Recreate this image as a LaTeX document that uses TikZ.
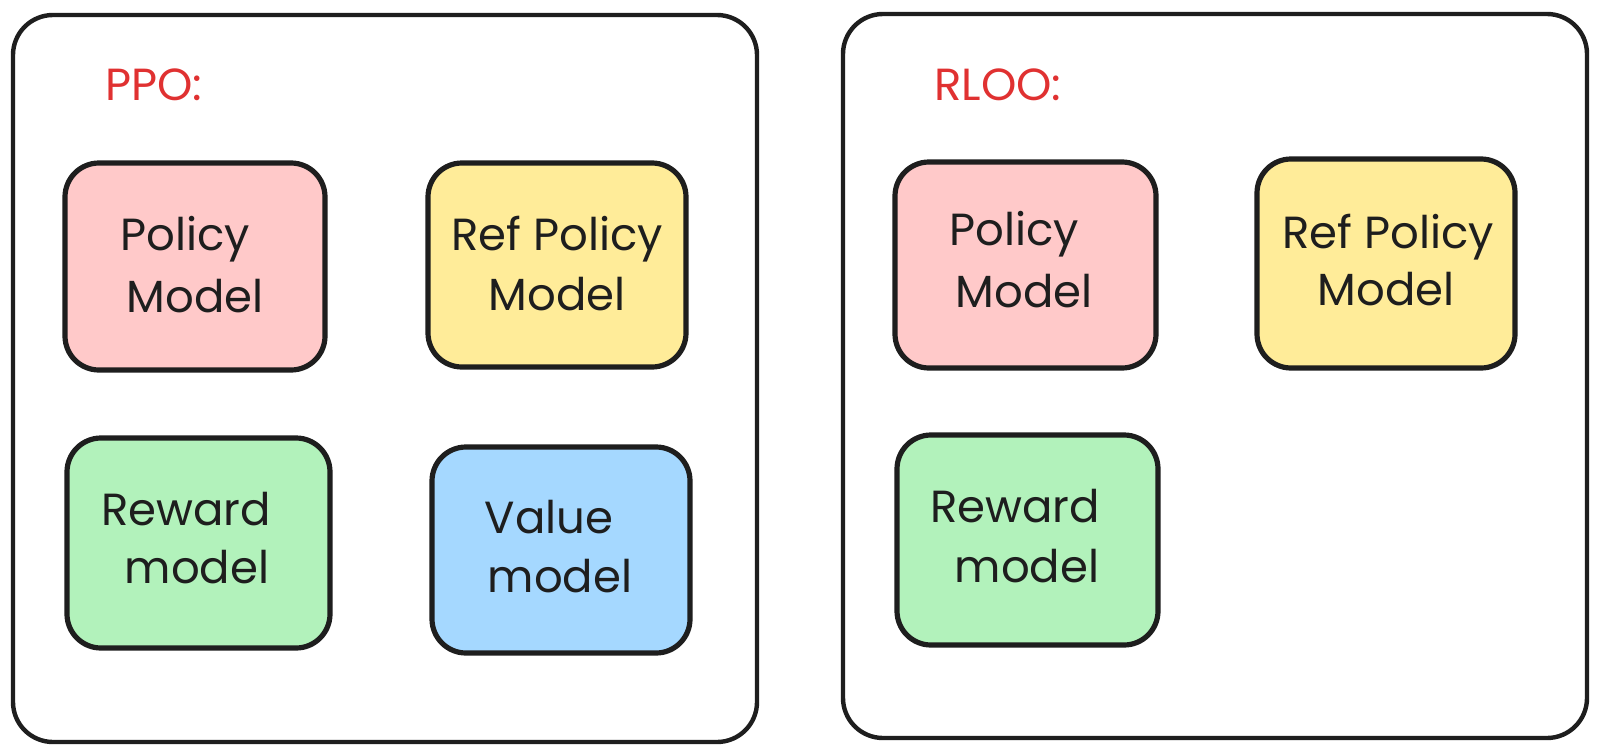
\documentclass[tikz,border=0pt]{standalone}
\usepackage{fontspec}
\setmainfont{Poppins}
\usetikzlibrary{fit}
\definecolor{ink}{HTML}{1E1E1E}
\definecolor{titlered}{HTML}{E03131}
\definecolor{pinkfill}{HTML}{FFC9C9}
\definecolor{yellowfill}{HTML}{FFEC99}
\definecolor{greenfill}{HTML}{B2F2BB}
\definecolor{bluefill}{HTML}{A5D8FF}
\begin{document}
\begin{tikzpicture}[x=0.5pt,y=-0.5pt,
  panel/.style={draw=ink, line width=2.2pt, rounded corners=20pt, fill=white, inner sep=0pt},
  card/.style={draw=ink, line width=2.6pt, rounded corners=17pt, inner sep=0pt},
  lbl/.style={anchor=base, inner sep=0pt, font=\fontsize{22.5}{26}\selectfont, text=ink},
  title/.style={anchor=base west, inner sep=0pt, font=\fontsize{22.5}{26}\selectfont, text=titlered}]
\useasboundingbox (0,0) rectangle (1600,755);
\fill[white] (0,0) rectangle (1600,755);

% panels
\node[panel, fit={(13,15) (757,742)}] (ppopanel) {};
\node[panel, fit={(843,14) (1587,738)}] (rloopanel) {};

% titles
\node[title] (ppotitle) at (105,100) {PPO:};
\node[title] (rlootitle) at (934,100) {RLOO:};

% PPO cards
\node[card, fill=pinkfill, fit={(65,163) (325,370)}] (lpolicy) {};
\node[card, fill=yellowfill, fit={(428,163) (686,367)}] (lref) {};
\node[card, fill=greenfill, fit={(67,438) (330,648)}] (lreward) {};
\node[card, fill=bluefill, fit={(432,447) (690,653)}] (lvalue) {};

% RLOO cards
\node[card, fill=pinkfill, fit={(895,162) (1156,368)}] (rpolicy) {};
\node[card, fill=yellowfill, fit={(1257,159) (1515,368)}] (rref) {};
\node[card, fill=greenfill, fit={(897,435) (1158,645)}] (rreward) {};

% PPO texts
\node[lbl] (lpolicyA) at (185,250) {Policy};
\node[lbl] (lpolicyB) at (195,312) {Model};
\node[lbl] (lrefA) at (557,250) {Ref Policy};
\node[lbl] (lrefB) at (557,310) {Model};
\node[lbl] (lrewardA) at (186,525) {Reward};
\node[lbl] (lrewardB) at (197,583) {model};
\node[lbl] (lvalueA) at (549,533) {Value};
\node[lbl] (lvalueB) at (560,592) {model};

% RLOO texts
\node[lbl] (rpolicyA) at (1014,245) {Policy};
\node[lbl] (rpolicyB) at (1024,307) {Model};
\node[lbl] (rrefA) at (1388,248) {Ref Policy};
\node[lbl] (rrefB) at (1386,305) {Model};
\node[lbl] (rrewardA) at (1015,522) {Reward};
\node[lbl] (rrewardB) at (1027,582) {model};
\end{tikzpicture}
\end{document}
